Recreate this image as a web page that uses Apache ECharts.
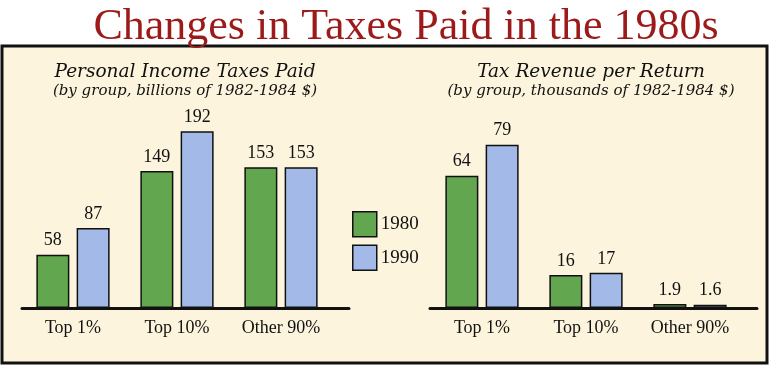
<!DOCTYPE html>
<html>
<head>
<meta charset="utf-8">
<script src="https://cdn.jsdelivr.net/npm/echarts@6/dist/echarts.min.js"></script>
<style>html,body{margin:0;padding:0;background:#fff;}#c{width:773px;height:370px;}</style>
</head>
<body>
<div id="c"></div>
<script>
const categories = ['Top 1%', 'Top 10%', 'Other 90%'];
const seriesNames = ['1980', '1990'];
const taxesPaid1980 = [58, 149, 153];
const taxesPaid1990 = [87, 192, 153];
const revenuePerReturn1980 = [64, 16, 1.9];
const revenuePerReturn1990 = [79, 17, 1.6];

const GREEN = '#62a64f';
const BLUE = '#a3b9e7';
const SERIF = '"Liberation Serif", "Times New Roman", serif';
const ITALIC = '"DejaVu Serif", serif';

const chart = echarts.init(document.getElementById('c'), null, {renderer: 'canvas'});

function barSeries(name, data, idx, color) {
  return {
    type: 'bar', name: name, data: data,
    xAxisIndex: idx, yAxisIndex: idx,
    barWidth: 33, barGap: '22%',
    itemStyle: {color: color, borderColor: '#111', borderWidth: 1.5},
    label: {show: true, position: 'top', distance: 5, fontFamily: SERIF, fontSize: 18, color: '#111'},
    animation: false
  };
}

const catAxisBase = {
  type: 'category', data: categories, offset: 5,
  axisLine: {show: false}, axisTick: {show: false},
  axisLabel: {fontFamily: SERIF, fontSize: 18, color: '#111', margin: 6}
};
const lineAxisBase = {
  type: 'category', data: categories, offset: 5,
  axisLine: {show: true, lineStyle: {color: '#111', width: 3}},
  axisTick: {show: false}, axisLabel: {show: false}
};

chart.setOption({
  backgroundColor: '#ffffff',
  animation: false,
  title: [
    {text: 'Changes in Taxes Paid in the 1980s', left: 401, top: 0, textAlign: 'center',
     textStyle: {fontFamily: SERIF, fontSize: 44, fontWeight: 'normal', color: '#9c1a1a'}},
    {text: 'Personal Income Taxes Paid', left: 180, top: 58, textAlign: 'center',
     textStyle: {fontFamily: ITALIC, fontStyle: 'italic', fontSize: 18.5, fontWeight: 'normal', color: '#111'},
     subtext: '(by group, billions of 1982-1984 $)', itemGap: 2,
     subtextStyle: {fontFamily: ITALIC, fontStyle: 'italic', fontSize: 15, color: '#111'}},
    {text: 'Tax Revenue per Return', left: 586, top: 58, textAlign: 'center',
     textStyle: {fontFamily: ITALIC, fontStyle: 'italic', fontSize: 18.5, fontWeight: 'normal', color: '#111'},
     subtext: '(by group, thousands of 1982-1984 $)', itemGap: 2,
     subtextStyle: {fontFamily: ITALIC, fontStyle: 'italic', fontSize: 15, color: '#111'}}
  ],
  graphic: [
    {type: 'rect', z: -10, shape: {x: 2, y: 46, width: 765, height: 317},
     style: {fill: '#fcf4dc', stroke: '#111', lineWidth: 3}}
  ],
  legend: {
    data: seriesNames, orient: 'vertical', left: 347, top: 206,
    itemWidth: 24, itemHeight: 25, itemGap: 7, icon: 'rect',
    textStyle: {fontFamily: SERIF, fontSize: 19, color: '#111', padding: [0, 0, 0, -1]},
    itemStyle: {borderColor: '#111', borderWidth: 1.5}
  },
  grid: [
    {left: 21, width: 312, top: 124, height: 184},
    {left: 430, width: 312, top: 124, height: 184},
    {left: 22, width: 327, top: 124, height: 184},
    {left: 430, width: 327, top: 124, height: 184}
  ],
  xAxis: [
    Object.assign({gridIndex: 0}, catAxisBase),
    Object.assign({gridIndex: 1}, catAxisBase),
    Object.assign({gridIndex: 2}, lineAxisBase),
    Object.assign({gridIndex: 3}, lineAxisBase)
  ],
  yAxis: [
    {gridIndex: 0, type: 'value', min: 0, max: 200, show: false},
    {gridIndex: 1, type: 'value', min: 0, max: 89, show: false},
    {gridIndex: 2, type: 'value', min: 0, max: 1, show: false},
    {gridIndex: 3, type: 'value', min: 0, max: 1, show: false}
  ],
  series: [
    barSeries(seriesNames[0], taxesPaid1980, 0, GREEN),
    barSeries(seriesNames[1], taxesPaid1990, 0, BLUE),
    barSeries(seriesNames[0], revenuePerReturn1980, 1, GREEN),
    barSeries(seriesNames[1], revenuePerReturn1990, 1, BLUE)
  ]
});
</script>
</body>
</html>
